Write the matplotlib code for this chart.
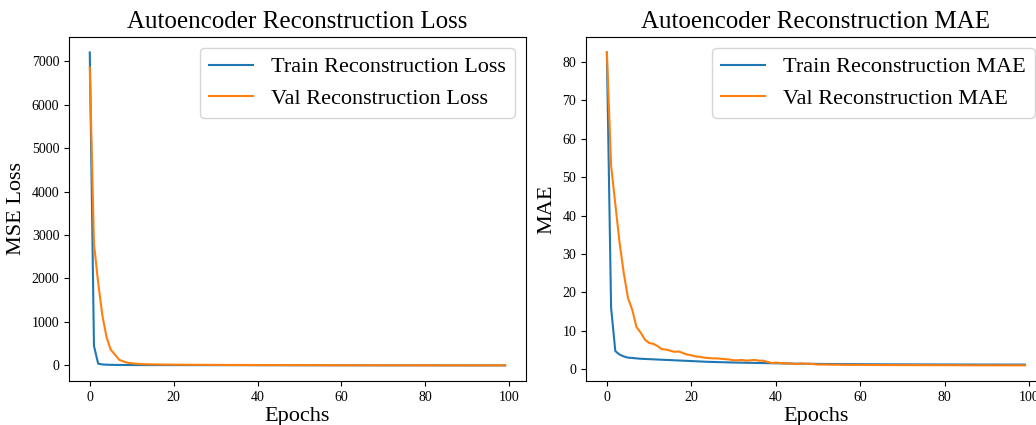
import matplotlib
matplotlib.use("Agg")
import matplotlib.pyplot as plt

plt.rcParams['font.family'] = ['Liberation Serif', 'DejaVu Serif']

# reconstruction loss (MSE) per epoch
train_loss = [7200, 450, 40, 22, 16, 13, 11, 10, 9.5, 9,
              8.6, 8.3, 8, 7.8, 7.6, 7.4, 7.2, 7, 6.9, 6.8,
              6.7, 6.6, 6.5, 6.4, 6.3, 6.2, 6.1, 6, 5.9, 5.8,
              5.7, 5.6, 5.5, 5.4, 5.3, 5.2, 5.1, 5, 4.9, 4.8,
              4.7, 4.6, 4.5, 4.4, 4.3, 4.2, 4.1, 4, 3.9, 3.8,
              3.7, 3.6, 3.5, 3.4, 3.3, 3.2, 3.1, 3, 2.9, 2.8,
              2.7, 2.6, 2.5, 2.4, 2.3, 2.2, 2.1, 2, 1.9, 1.8,
              1.7, 1.6, 1.5, 1.5, 1.4, 1.4, 1.3, 1.3, 1.2, 1.2,
              1.1, 1.1, 1.1, 1, 1, 1, 1, 0.9, 0.9, 0.9,
              0.9, 0.9, 0.8, 0.8, 0.8, 0.8, 0.8, 0.8, 0.8, 0.8]
val_loss = [6850, 2800, 1900, 1150, 650, 360, 250, 130, 90, 62,
            48, 38, 32, 28, 25, 23, 21, 20, 19, 18,
            17, 16, 15.5, 15, 14.5, 14, 13.5, 13, 12.5, 12,
            11.5, 11, 11, 10.5, 10.5, 10, 10, 9.5, 9, 8.5,
            8, 8, 7.5, 7.5, 7, 7, 6.5, 6.5, 6, 6,
            5.5, 5.5, 5, 5, 5, 4.5, 4.5, 4.5, 4, 4,
            4, 3.8, 3.6, 3.4, 3.2, 3, 2.9, 2.8, 2.7, 2.6,
            2.5, 2.4, 2.3, 2.2, 2.1, 2, 1.9, 1.8, 1.7, 1.6,
            1.5, 1.5, 1.4, 1.4, 1.3, 1.3, 1.2, 1.2, 1.1, 1.1,
            1, 1, 1, 0.9, 0.9, 0.9, 0.9, 0.8, 0.8, 0.8]

# reconstruction MAE per epoch
train_mae = [82.5, 16, 4.7, 3.8, 3.3, 3.0, 2.9, 2.8, 2.7, 2.65,
             2.6, 2.55, 2.5, 2.45, 2.4, 2.35, 2.3, 2.25, 2.2, 2.15,
             2.1, 2.05, 2.0, 1.95, 1.9, 1.87, 1.84, 1.81, 1.78, 1.75,
             1.72, 1.7, 1.68, 1.66, 1.64, 1.62, 1.6, 1.58, 1.56, 1.54,
             1.52, 1.5, 1.48, 1.46, 1.44, 1.42, 1.4, 1.39, 1.38, 1.37,
             1.36, 1.35, 1.34, 1.33, 1.32, 1.31, 1.3, 1.3, 1.29, 1.29,
             1.28, 1.28, 1.27, 1.27, 1.26, 1.26, 1.25, 1.25, 1.25, 1.24,
             1.24, 1.24, 1.23, 1.23, 1.23, 1.22, 1.22, 1.22, 1.22, 1.21,
             1.21, 1.21, 1.21, 1.2, 1.2, 1.2, 1.2, 1.2, 1.19, 1.19,
             1.19, 1.19, 1.19, 1.18, 1.18, 1.18, 1.18, 1.18, 1.18, 1.18]
val_mae = [82.5, 53, 43, 33, 25, 18.5, 15.5, 11, 9.5, 7.7,
           6.8, 6.6, 6.0, 5.2, 5.1, 4.8, 4.5, 4.6, 4.2, 3.8,
           3.6, 3.3, 3.2, 3.0, 2.9, 2.8, 2.8, 2.7, 2.6, 2.5,
           2.3, 2.3, 2.4, 2.2, 2.3, 2.4, 2.2, 2.2, 1.9, 1.6,
           1.7, 1.6, 1.5, 1.5, 1.4, 1.3, 1.5, 1.4, 1.4, 1.3,
           1.2, 1.2, 1.2, 1.15, 1.15, 1.15, 1.1, 1.1, 1.1, 1.1,
           1.1, 1.1, 1.08, 1.08, 1.08, 1.06, 1.06, 1.06, 1.05, 1.05,
           1.05, 1.04, 1.04, 1.04, 1.03, 1.03, 1.03, 1.02, 1.02, 1.02,
           1.02, 1.01, 1.01, 1.01, 1.01, 1.0, 1.0, 1.0, 1.0, 1.0,
           1.0, 0.99, 0.99, 0.99, 0.99, 0.98, 0.98, 0.98, 0.98, 0.98]

epochs = list(range(len(train_loss)))

fig = plt.figure(figsize=(10.36, 4.25), dpi=100)
ax1 = fig.add_axes([0.0666, 0.1035, 0.441, 0.81])
ax2 = fig.add_axes([0.5656, 0.1035, 0.444, 0.81])

ax1.plot(epochs, train_loss, label="Train Reconstruction Loss")
ax1.plot(epochs, val_loss, label="Val Reconstruction Loss")
ax1.set_title("Autoencoder Reconstruction Loss", fontsize=18)
ax1.set_xlabel("Epochs", fontsize=16, labelpad=2)
ax1.set_ylabel("MSE Loss", fontsize=16)
ax1.legend(fontsize=16, loc="upper right")

ax2.plot(epochs, train_mae, label="Train Reconstruction MAE")
ax2.plot(epochs, val_mae, label="Val Reconstruction MAE")
ax2.set_title("Autoencoder Reconstruction MAE", fontsize=18)
ax2.set_xlabel("Epochs", fontsize=16, labelpad=2)
ax2.set_ylabel("MAE", fontsize=16)
ax2.legend(fontsize=16, loc="upper right")

for ax in (ax1, ax2):
    ax.tick_params(labelsize=10)

fig.savefig("out.png", dpi=100)
